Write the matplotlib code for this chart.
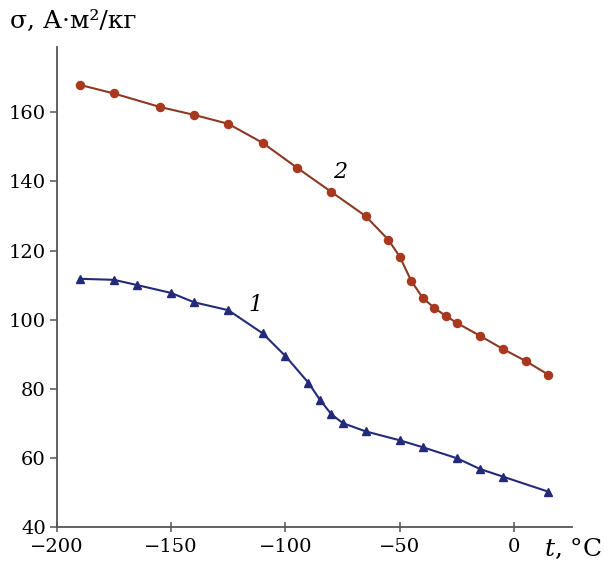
import numpy as np
import matplotlib
matplotlib.use("Agg")
import matplotlib.pyplot as plt

plt.rcParams['font.family'] = ['DejaVu Serif']
plt.rcParams['mathtext.fontset'] = 'custom'
plt.rcParams['mathtext.it'] = 'DejaVu Serif:italic'
plt.rcParams['mathtext.rm'] = 'DejaVu Serif'

# curve 1 (triangles)
t1 = [-190, -175, -165, -150, -140, -125, -110, -100, -90, -85, -80, -75,
      -65, -50, -40, -25, -15, -5, 15]
s1 = [111.8, 111.5, 110.0, 107.7, 105.0, 102.7, 96.0, 89.4, 81.7, 76.8, 72.6,
      70.0, 67.6, 65.0, 63.0, 59.8, 56.7, 54.5, 50.1]

# curve 2 (circles)
t2 = [-190, -175, -155, -140, -125, -110, -95, -80, -65, -55, -50, -45, -40,
      -35, -30, -25, -15, -5, 5, 15]
s2 = [168.0, 165.5, 161.6, 159.3, 156.7, 151.2, 144.0, 137.0, 130.0, 123.1,
      118.2, 111.2, 106.3, 103.4, 101.1, 99.0, 95.3, 91.5, 88.0, 84.0]

xticks = [-200, -150, -100, -50, 0]
yticks = [40, 60, 80, 100, 120, 140, 160]

blue = '#232a78'
red = '#a8391f'

fig = plt.figure(figsize=(6.05, 5.65), dpi=100)
ax = fig.add_axes([0.094, 0.068, 0.851, 0.849])

ax.plot(t1, s1, color=blue, lw=1.5, marker='^', ms=5.5, mfc=blue, mec=blue)
ax.plot(t2, s2, color='#8a3a22', lw=1.5, marker='o', ms=5.8, mfc=red, mec=red)

ax.text(-113, 104.3, '1', fontsize=16, style='italic', ha='center', va='center')
ax.text(-76, 142.8, '2', fontsize=16, style='italic', ha='center', va='center')

ax.set_xlim(-200, 25.2)
ax.set_ylim(40, 179)
ax.set_xticks(xticks)
ax.set_yticks(yticks)

for side in ['top', 'right']:
    ax.spines[side].set_visible(False)
for side in ['left', 'bottom']:
    ax.spines[side].set_color('#555555')
    ax.spines[side].set_linewidth(1.3)

ax.tick_params(axis='x', direction='inout', length=7, width=1.1, color='#555555',
               labelsize=14, pad=5)
ax.tick_params(axis='y', direction='out', length=5, width=1.1, color='#555555',
               labelsize=14, pad=3)

fig.text(0.016, 0.962, 'σ, А·м²/кг', fontsize=18, ha='left', va='center')
fig.text(0.995, 0.028, r'$t$, °C', fontsize=18, ha='right', va='center')

fig.savefig('out.png', dpi=100)
